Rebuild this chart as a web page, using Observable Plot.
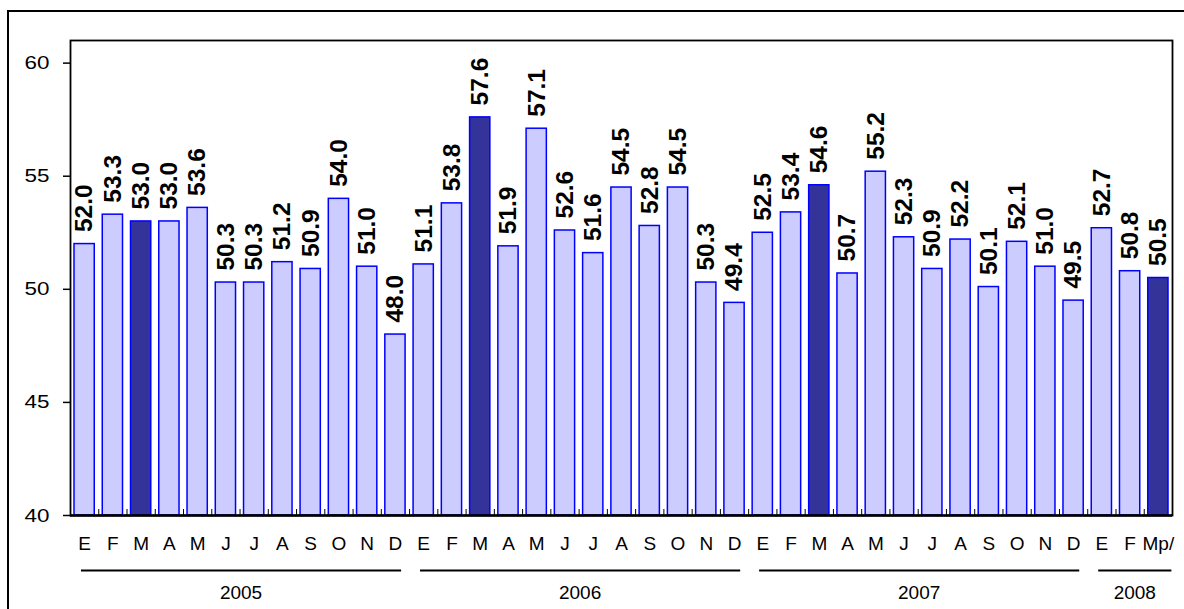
<!DOCTYPE html>
<html><head><meta charset="utf-8">
<script src="https://cdn.jsdelivr.net/npm/d3@7"></script>
<script src="https://cdn.jsdelivr.net/npm/@observablehq/plot@0.6"></script>
<style>
html,body{margin:0;padding:0;background:#fff;overflow:hidden;}
#wrap{position:relative;width:1184px;height:609px;}
#border{position:absolute;left:7px;top:10px;width:1300px;height:800px;border:2px solid #000;pointer-events:none;}
#wrap svg{position:absolute;left:0;top:0;}
</style></head><body><div id="wrap"><div id="border"></div></div>
<script>
const months = ["E","F","M","A","M","J","J","A","S","O","N","D",
                "E","F","M","A","M","J","J","A","S","O","N","D",
                "E","F","M","A","M","J","J","A","S","O","N","D",
                "E","F","Mp/"];
const values = [52.0,53.3,53.0,53.0,53.6,50.3,50.3,51.2,50.9,54.0,51.0,48.0,
                51.1,53.8,57.6,51.9,57.1,52.6,51.6,54.5,52.8,54.5,50.3,49.4,
                52.5,53.4,54.6,50.7,55.2,52.3,50.9,52.2,50.1,52.1,51.0,49.5,
                52.7,50.8,50.5];
const highlighted = [2,14,26,38];
const years = ["2005","2006","2007","2008"];
const yearStart = [0,12,24,36];
const yearEnd = [12,24,36,39];
const yTicks = [40,45,50,55,60];

const W = 1184, H = 609, mL = 70, mR = 12, mT = 40, mB = 94;
const yDomain = [40, 61];
const pxPerUnit = (H - mT - mB) / (yDomain[1] - yDomain[0]);

const bars = values.map((v, i) => ({i, v, month: months[i], hi: highlighted.includes(i)}));
const yearData = years.map((label, k) => {
  const x1 = yearStart[k] + 0.37;
  const x2 = yearEnd[k] - (k === years.length - 1 ? 0.04 : 0.3);
  return {label, x1, x2, xc: (x1 + x2) / 2};
});

const font = "'Liberation Sans', Arial, Helvetica, sans-serif";

const chart = Plot.plot({
  width: W, height: H,
  marginLeft: mL, marginRight: mR, marginTop: mT, marginBottom: mB,
  style: {fontFamily: font, background: "transparent", color: "black"},
  x: {domain: [0, 39], axis: null},
  y: {domain: yDomain, axis: null},
  marks: [
    Plot.rectY(bars, {
      x1: "i", x2: d => d.i + 1, y1: 40, y2: "v",
      insetLeft: 4, insetRight: 4,
      fill: d => d.hi ? "#333399" : "#CCCCFF",
      stroke: "#0000FF", strokeWidth: 1.5
    }),
    Plot.ruleX(d3.range(1, 39), {x: d => d, y1: 40, y2: 40 + 6 / pxPerUnit, stroke: "black", strokeWidth: 1}),
    Plot.frame({stroke: "black", strokeWidth: 1.8}),
    Plot.ruleY([40], {stroke: "black", strokeWidth: 2.5}),
    Plot.axisY(yTicks, {tickSize: 7, tickPadding: 14, fontSize: 19, stroke: "black", strokeWidth: 1.5, label: null}),
    Plot.text(bars, {
      x: d => d.i + 0.5, y: "v", text: d => d.v.toFixed(1),
      rotate: -90, textAnchor: "start", lineAnchor: "middle",
      dy: -12, dx: 0, fontSize: 24.5, fontWeight: "bold", fill: "black",
      ariaLabel: "value-labels"
    }),
    Plot.text(bars, {
      x: d => d.i + 0.5, text: "month", frameAnchor: "bottom",
      dy: 28, lineAnchor: "middle", fontSize: 19, fill: "black",
      ariaLabel: "month-labels"
    }),
    Plot.link(yearData, {x1: "x1", x2: "x2", y1: 40, y2: 40, dy: 55, stroke: "black", strokeWidth: 2}),
    Plot.text(yearData, {
      x: "xc", text: "label", frameAnchor: "bottom",
      dy: 77, lineAnchor: "middle", fontSize: 19, fill: "black",
      ariaLabel: "year-labels"
    })
  ]
});
document.getElementById("wrap").appendChild(chart);

// horizontal stretch of glyphs, as in the reference image
function stretch(selector, sx, sy) {
  chart.querySelectorAll(selector).forEach(t => {
    let tr = t.getAttribute("transform");
    if (!tr) {
      const x = +t.getAttribute("x") || 0, y = +t.getAttribute("y") || 0;
      t.removeAttribute("x"); t.removeAttribute("y");
      tr = `translate(${x},${y})`;
    }
    t.setAttribute("transform", `${tr} scale(${sx},${sy})`);
  });
}
stretch('g[aria-label="value-labels"] text', 1, 1.12);
stretch('g[aria-label="month-labels"] text', 1.15, 1);
stretch('g[aria-label="year-labels"] text', 1.07, 1);
stretch('g[aria-label="y-axis tick label"] text', 1.18, 1);
</script>
</body></html>
